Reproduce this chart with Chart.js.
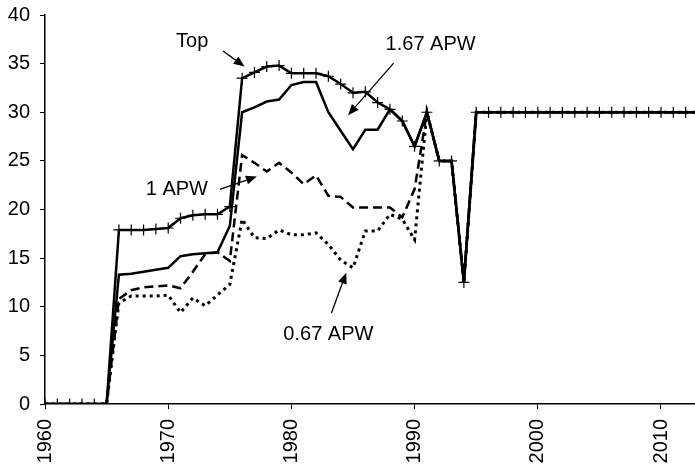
<!DOCTYPE html>
<html>
<head>
<meta charset="utf-8">
<script src="https://cdn.jsdelivr.net/npm/chart.js@4"></script>
<style>
  html, body { margin: 0; padding: 0; background: #fff; }
  #wrap { width: 695px; height: 469px; }
</style>
</head>
<body>
<div id="wrap"><canvas id="chart"></canvas></div>
<script>
// ===== Data =====
const years = [];
for (let y = 1960; y <= 2013; y++) years.push(y);

const flat30 = [30, 30, 30, 30, 30, 30, 30, 30, 30, 30, 30, 30, 30, 30, 30, 30, 30, 30, 30];

const topVals = [0, 0, 0, 0, 0, 0,
    17.9, 17.9, 17.9, 18.0, 18.1, 19.1, 19.4, 19.5, 19.5, 20.3,
    33.5, 34.1, 34.7, 34.8, 34.0, 34.0, 34.0, 33.7, 32.9, 32.0,
    32.1, 31.0, 30.3, 29.1, 26.5, 30.0, 25.0, 25.0, 12.5].concat(flat30);

const apw167 = [0, 0, 0, 0, 0, 0,
    13.3, 13.4, 13.6, 13.8, 14.0, 15.2, 15.4, 15.5, 15.6, 18.3,
    30.0, 30.5, 31.1, 31.3, 32.8, 33.1, 33.1, 30.0, 28.1, 26.2,
    28.2, 28.2, 30.3, 29.1, 26.5, 30.0, 25.0, 25.0, 12.5].concat(flat30);

const apw1 = [0, 0, 0, 0, 0, 0,
    10.8, 11.7, 12.0, 12.1, 12.2, 11.9, 13.6, 15.4, 15.6, 14.7,
    25.6, 24.8, 23.9, 24.8, 23.8, 22.6, 23.5, 21.4, 21.3, 20.2,
    20.2, 20.2, 20.2, 19.2, 22.1, 30.0, 25.0, 25.0, 12.5].concat(flat30);

const apw067 = [0, 0, 0, 0, 0, 0,
    10.4, 11.1, 11.1, 11.1, 11.2, 9.4, 10.9, 10.1, 11.2, 12.3,
    19.0, 17.1, 17.0, 17.9, 17.4, 17.4, 17.6, 16.4, 14.8, 14.0,
    17.8, 17.8, 19.5, 19.0, 16.9, 30.0, 25.0, 25.0, 12.5].concat(flat30);

const xTicks = [1960, 1970, 1980, 1990, 2000, 2010];
const yTicks = [0, 5, 10, 15, 20, 25, 30, 35, 40];

// labels with arrows: text position and arrow from -> to, in data units
const notes = [
    { text: 'Top', x: 1971.95, y: 37.3, from: [1974.45, 36.3], to: [1976.2, 34.7] },
    { text: '1.67 APW', x: 1991.3, y: 37.0, from: [1988.3, 35.05], to: [1984.6, 29.7] },
    { text: '1 APW', x: 1970.7, y: 22.1, from: [1974.2, 22.06], to: [1977.2, 23.4] },
    { text: '0.67 APW', x: 1983.0, y: 7.1, from: [1983.25, 9.35], to: [1984.45, 13.5] }
];

const pts = vals => years.map((yr, i) => ({ x: yr, y: vals[i] }));

// ===== Annotation plugin =====
const notesPlugin = {
    id: 'notes',
    afterDraw(chart) {
        const c = chart.ctx, sx = chart.scales.x, sy = chart.scales.y;
        c.save();
        c.fillStyle = '#000';
        c.strokeStyle = '#000';
        c.font = '20px "Liberation Sans", Arial, sans-serif';
        c.textAlign = 'center';
        c.textBaseline = 'middle';
        notes.forEach(n => {
            c.fillText(n.text, sx.getPixelForValue(n.x), sy.getPixelForValue(n.y));
            const x1 = sx.getPixelForValue(n.from[0]), y1 = sy.getPixelForValue(n.from[1]);
            const x2 = sx.getPixelForValue(n.to[0]), y2 = sy.getPixelForValue(n.to[1]);
            const a = Math.atan2(y2 - y1, x2 - x1);
            const len = 11, w = 4.5;
            const bx = x2 - len * Math.cos(a), by = y2 - len * Math.sin(a);
            c.lineWidth = 1.3;
            c.beginPath();
            c.moveTo(x1, y1);
            c.lineTo(bx, by);
            c.stroke();
            c.beginPath();
            c.moveTo(x2, y2);
            c.lineTo(bx + w * Math.sin(a), by - w * Math.cos(a));
            c.lineTo(bx - w * Math.sin(a), by + w * Math.cos(a));
            c.closePath();
            c.fill();
        });
        c.restore();
    }
};

const tickFont = { family: '"Liberation Sans", Arial, sans-serif', size: 20 };

new Chart(document.getElementById('chart'), {
    type: 'line',
    data: {
        datasets: [
            {
                label: 'Top',
                data: pts(topVals),
                borderColor: '#000',
                borderWidth: 2.5,
                pointStyle: 'cross',
                pointRadius: 5.5,
                pointBorderWidth: 1.2,
                pointBorderColor: '#000',
                tension: 0
            },
            {
                label: '1.67 APW',
                data: pts(apw167),
                borderColor: '#000',
                borderWidth: 2.5,
                pointRadius: 0,
                tension: 0
            },
            {
                label: '1 APW',
                data: pts(apw1),
                borderColor: '#000',
                borderWidth: 2.5,
                borderDash: [9, 5],
                pointRadius: 0,
                tension: 0
            },
            {
                label: '0.67 APW',
                data: pts(apw067),
                borderColor: '#000',
                borderWidth: 3,
                borderDash: [3, 4],
                pointRadius: 0,
                tension: 0
            }
        ]
    },
    options: {
        responsive: true,
        maintainAspectRatio: false,
        animation: false,
        layout: { autoPadding: false, padding: { top: 15, right: 0, bottom: 0, left: 0 } },
        plugins: {
            legend: { display: false },
            tooltip: { enabled: false }
        },
        scales: {
            x: {
                type: 'linear',
                min: 1960,
                max: 2012.76,
                afterBuildTicks: s => { s.ticks = xTicks.map(v => ({ value: v })); },
                afterFit: s => { s.height = 65; s.paddingLeft = 0; s.paddingRight = 0; },
                grid: { drawOnChartArea: false, drawTicks: true, tickLength: 5, color: '#000', lineWidth: 1 },
                border: { color: '#000', width: 1.5 },
                ticks: {
                    color: '#000',
                    font: tickFont,
                    minRotation: 90,
                    maxRotation: 90,
                    padding: 10,
                    callback: v => String(v)
                }
            },
            y: {
                min: 0,
                max: 40,
                afterBuildTicks: s => { s.ticks = yTicks.map(v => ({ value: v })); },
                afterFit: s => { s.width = 45; s.paddingTop = 0; s.paddingBottom = 0; },
                grid: { drawOnChartArea: false, drawTicks: true, tickLength: 5, color: '#000', lineWidth: 1 },
                border: { color: '#000', width: 1.5 },
                ticks: {
                    color: '#000',
                    font: tickFont,
                    padding: 10
                }
            }
        }
    },
    plugins: [notesPlugin]
});
</script>
</body>
</html>
